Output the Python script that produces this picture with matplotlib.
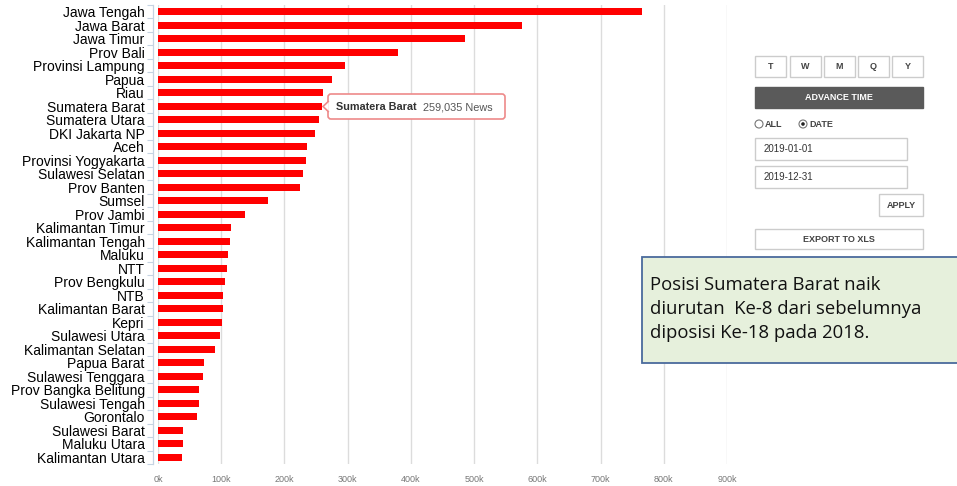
import matplotlib
matplotlib.use("Agg")
import matplotlib.pyplot as plt
from matplotlib.patches import Rectangle, FancyBboxPatch, Circle, Polygon

plt.rcParams["font.family"] = ["Liberation Sans", "DejaVu Sans"]

provinces = [
    "Jawa Tengah", "Jawa Barat", "Jawa Timur", "Prov Bali", "Provinsi Lampung",
    "Papua", "Riau", "Sumatera Barat", "Sumatera Utara", "DKI Jakarta NP",
    "Aceh", "Provinsi Yogyakarta", "Sulawesi Selatan", "Prov Banten", "Sumsel",
    "Prov Jambi", "Kalimantan Timur", "Kalimantan Tengah", "Maluku", "NTT",
    "Prov Bengkulu", "NTB", "Kalimantan Barat", "Kepri", "Sulawesi Utara",
    "Kalimantan Selatan", "Papua Barat", "Sulawesi Tenggara", "Prov Bangka Belitung",
    "Sulawesi Tengah", "Gorontalo", "Sulawesi Barat", "Maluku Utara", "Kalimantan Utara",
]
news = [
    766000, 576000, 485000, 379000, 295000,
    276000, 261000, 259035, 254000, 248000,
    236000, 234000, 229000, 224000, 174000,
    138000, 115000, 114000, 111000, 109000,
    106000, 103000, 103000, 100500, 98000,
    90000, 72500, 70500, 65000, 65000,
    61000, 40000, 40000, 37500,
]
x_ticks = [0, 100000, 200000, 300000, 400000, 500000, 600000, 700000, 800000, 900000]
x_tick_labels = ["0k", "100k", "200k", "300k", "400k", "500k", "600k", "700k", "800k", "900k"]

tip_name = "Sumatera Barat"
tip_value = "259,035 News"
buttons = ["T", "W", "M", "Q", "Y"]
date_from = "2019-01-01"
date_to = "2019-12-31"
note_lines = [
    "Posisi Sumatera Barat naik",
    "diurutan  Ke-8 dari sebelumnya",
    "diposisi Ke-18 pada 2018.",
]

W, H = 957, 486
fig = plt.figure(figsize=(W / 100, H / 100), dpi=100)

# main bar axes, placed in pixel terms
left_px, right_px, top_px, bot_px = 158, 727, 5, 464
ax = fig.add_axes([left_px / W, (H - bot_px) / H, (right_px - left_px) / W, (bot_px - top_px) / H])

ypos = list(range(len(provinces)))
ax.barh(ypos, news, height=0.54, color="#ff0000", zorder=2)
ax.set_xlim(0, 900000)
ax.set_ylim(len(provinces) - 0.5, -0.5)

ax.set_yticks(ypos)
ax.set_yticklabels(provinces, fontsize=9.6, color="#555555")
ax.set_yticks([i - 0.5 for i in range(len(provinces) + 1)], minor=True)
ax.tick_params(axis="y", which="major", length=0, pad=6)
ax.tick_params(axis="y", which="minor", length=4, width=0.8, color="#c5d3e2")

ax.set_xticks(x_ticks)
ax.set_xticklabels(x_tick_labels, fontsize=6.5, color="#777777")
ax.tick_params(axis="x", length=0, pad=8)
ax.grid(axis="x", color="#dcdcdc", linewidth=1, zorder=0)
ax.set_axisbelow(True)

for s in ["top", "right", "bottom"]:
    ax.spines[s].set_visible(False)
ax.spines["left"].set_position(("outward", 3.6))
ax.spines["left"].set_color("#c5d3e2")
ax.spines["left"].set_linewidth(0.9)

# overlay in pixel coordinates for the widgets
ov = fig.add_axes([0, 0, 1, 1], facecolor="none")
ov.set_xlim(0, W)
ov.set_ylim(H, 0)
ov.axis("off")

# tooltip
tip = FancyBboxPatch((328, 94), 177, 25, boxstyle="round,pad=0,rounding_size=3",
                     facecolor="white", edgecolor="#ee8a8a", linewidth=1.2, zorder=5)
ov.add_patch(tip)
ov.add_patch(Polygon([[328.8, 101], [323, 106.5], [328.8, 112]], closed=False,
                     facecolor="white", edgecolor="#ee8a8a", linewidth=1.2, zorder=6))
ov.text(336, 107, tip_name, fontsize=7.8, fontweight="bold", color="#333333",
        va="center", ha="left", zorder=7)
ov.text(423, 107, tip_value, fontsize=7.8, color="#555555", va="center", ha="left", zorder=7)

# time buttons
btn_x = [755, 790, 824, 858, 892]
for bx, lab in zip(btn_x, buttons):
    ov.add_patch(Rectangle((bx, 56), 31, 21, facecolor="white", edgecolor="#cccccc", linewidth=1))
    ov.text(bx + 15.5, 66.5, lab, fontsize=6.5, fontweight="bold", color="#444444",
            ha="center", va="center")

ov.add_patch(Rectangle((755, 87), 168, 21, facecolor="#5a5a5a", edgecolor="#5a5a5a"))
ov.text(839, 97.5, "ADVANCE TIME", fontsize=6.5, fontweight="bold", color="white",
        ha="center", va="center")

ov.add_patch(Circle((759, 124), 4, facecolor="white", edgecolor="#777777", linewidth=0.8))
ov.text(765, 124.5, "ALL", fontsize=6.5, fontweight="bold", color="#444444", va="center")
ov.add_patch(Circle((803, 124), 4, facecolor="white", edgecolor="#777777", linewidth=0.8))
ov.add_patch(Circle((803, 124), 1.8, facecolor="#222222", edgecolor="none"))
ov.text(809, 124.5, "DATE", fontsize=6.5, fontweight="bold", color="#444444", va="center")

for by, txt in [(138, date_from), (166, date_to)]:
    ov.add_patch(Rectangle((755, by), 152, 22, facecolor="white", edgecolor="#cccccc", linewidth=1))
    ov.text(764, by + 11, txt, fontsize=7, color="#333333", va="center")

ov.add_patch(Rectangle((879, 194), 44, 22, facecolor="white", edgecolor="#cccccc", linewidth=1))
ov.text(901, 205, "APPLY", fontsize=6.5, fontweight="bold", color="#444444",
        ha="center", va="center")

ov.add_patch(Rectangle((755, 229), 168, 20, facecolor="white", edgecolor="#cccccc", linewidth=1))
ov.text(839, 239, "EXPORT TO XLS", fontsize=6.5, fontweight="bold", color="#444444",
        ha="center", va="center")

# annotation note box
ov.add_patch(Rectangle((642, 257), 320, 106, facecolor="#e6f0dc", edgecolor="#4a6a9c",
                       linewidth=1.3, zorder=8))
for i, line in enumerate(note_lines):
    ov.text(650, 285 + i * 24, line, fontsize=13.3, family=["Open Sans", "DejaVu Sans"],
            color="#111111", va="center", ha="left", zorder=9)

fig.savefig("out.png", dpi=100)
